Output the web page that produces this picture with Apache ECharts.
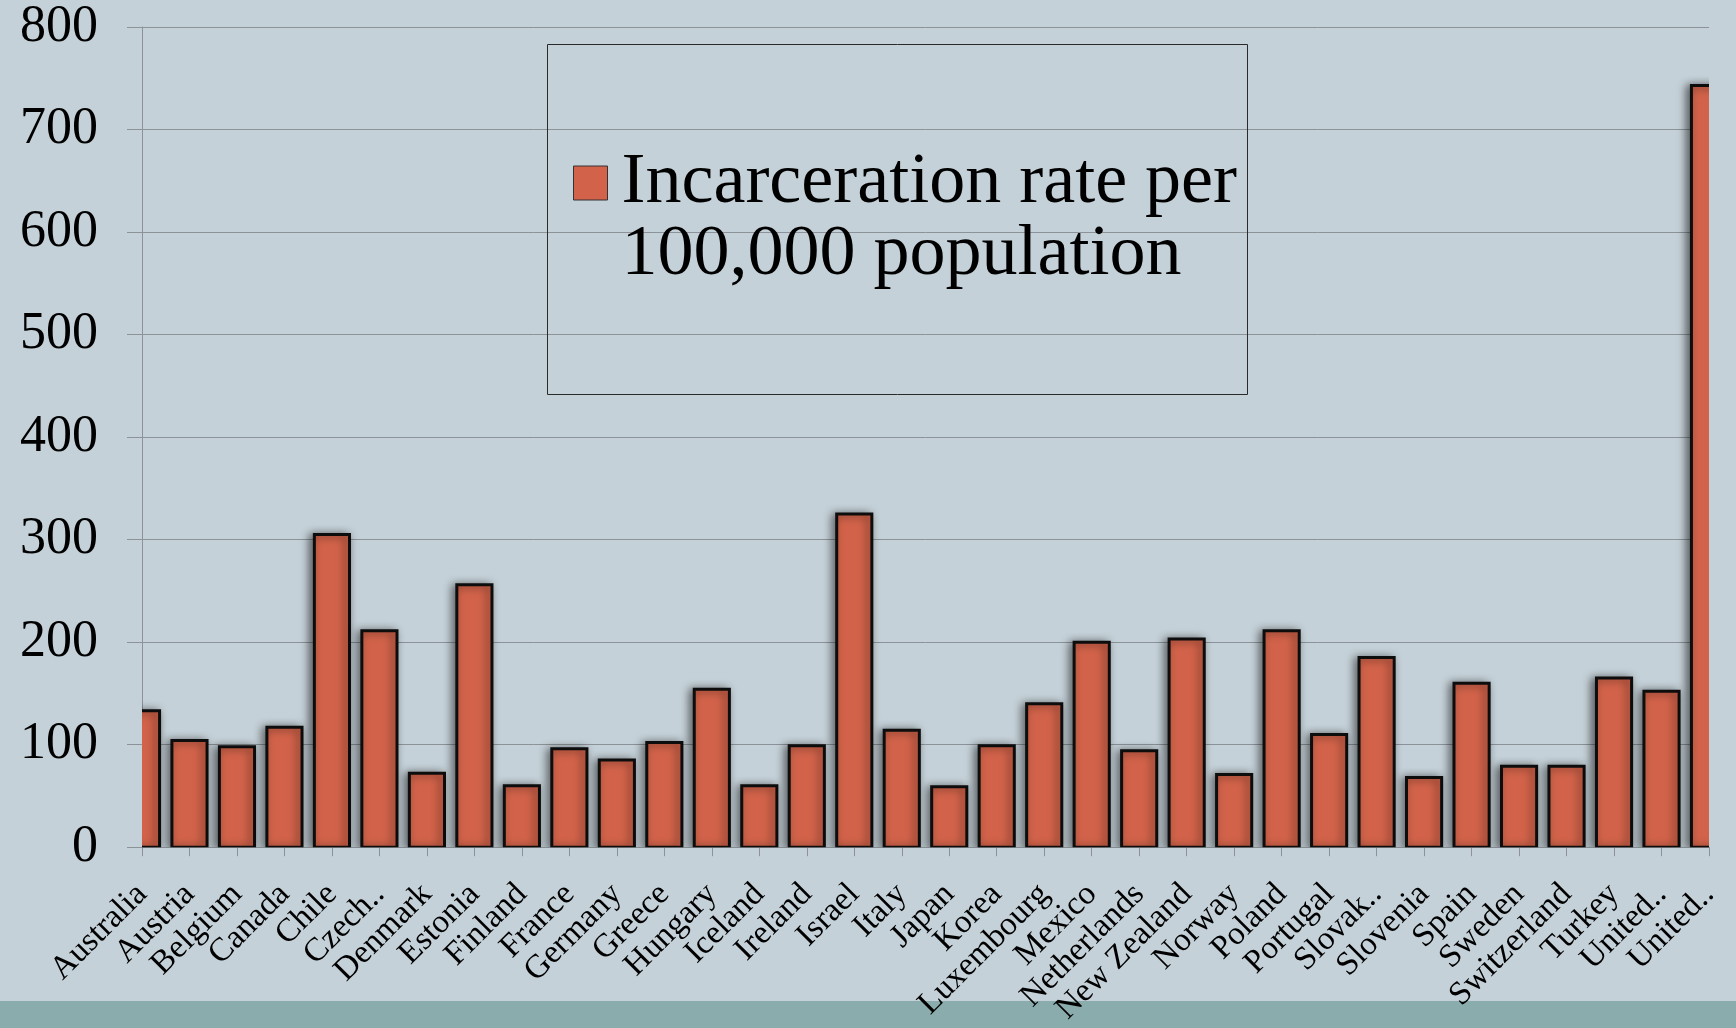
<!DOCTYPE html>
<html>
<head>
<meta charset="utf-8">
<title>Incarceration rate per 100,000 population</title>
<script src="https://cdn.jsdelivr.net/npm/echarts@6/dist/echarts.min.js"></script>
<style>
  html, body { margin: 0; padding: 0; background: #c5d1d8; }
  #chart { width: 1736px; height: 1028px; }
</style>
</head>
<body>
<div id="chart"></div>
<script>
// OECD countries, as labelled on the category axis
const countries = [
  'Australia', 'Austria', 'Belgium', 'Canada', 'Chile', 'Czech..', 'Denmark',
  'Estonia', 'Finland', 'France', 'Germany', 'Greece', 'Hungary', 'Iceland',
  'Ireland', 'Israel', 'Italy', 'Japan', 'Korea', 'Luxembourg', 'Mexico',
  'Netherlands', 'New Zealand', 'Norway', 'Poland', 'Portugal', 'Slovak..',
  'Slovenia', 'Spain', 'Sweden', 'Switzerland', 'Turkey', 'United..', 'United..'
];

// Prisoners per 100,000 inhabitants
const rates = [
  133, 104, 98, 117, 305, 211, 72,
  256, 60, 96, 85, 102, 154, 60,
  99, 325, 114, 59, 99, 140, 200,
  94, 203, 71, 211, 110, 185,
  68, 160, 79, 79, 165, 152, 743
];

const seriesName = 'Incarceration rate per\n100,000 population';

// value axis range
const yMin = 0;
const yMax = 800;
const yStep = 100;

const serif = '"Liberation Serif", "DejaVu Serif", serif';
const gridColor = '#8b9398';
const barFill = '#d2634a';
const barEdge = '#0d0d0d';

// [category index, value] pairs for the custom bar series
const barData = rates.map((v, i) => [i, v]);

// Bars sit on the category ticks (boundaryGap: false), so the end bars are
// cut by the plot area; a custom series with clipping gives exactly that.
function renderBar(params, api) {
  const i = api.value(0);
  const v = api.value(1);
  const base = api.coord([i, 0]);
  const top = api.coord([i, v]);
  const w = api.size([1, 0])[0] * 0.74;
  return {
    type: 'rect',
    shape: { x: top[0] - w / 2, y: top[1], width: w, height: base[1] - top[1] },
    style: {
      fill: barFill,
      stroke: barEdge,
      lineWidth: 3,
      shadowBlur: 9,
      shadowColor: 'rgba(0, 0, 0, 0.55)',
      shadowOffsetX: -3,
      shadowOffsetY: 1
    }
  };
}

const chart = echarts.init(document.getElementById('chart'));

chart.setOption({
  backgroundColor: '#c5d1d8',
  animation: false,
  grid: { left: 142, right: 27, top: 27, bottom: 179, containLabel: false },
  legend: {
    data: [seriesName],
    left: 573,
    top: 75,
    padding: 0,
    itemWidth: 34,
    itemHeight: 34,
    icon: 'rect',
    // a blank leading line keeps the first text line level with the swatch
    formatter: name => '\n' + name,
    itemStyle: { color: barFill, borderWidth: 1, borderColor: '#333', shadowBlur: 0, shadowOffsetX: 0, shadowOffsetY: 0 },
    textStyle: {
      fontFamily: serif,
      fontSize: 72,
      lineHeight: 72,
      color: '#000',
      padding: [0, 0, 0, 9]
    }
  },
  xAxis: {
    type: 'category',
    data: countries,
    boundaryGap: false,
    axisLine: { show: true, lineStyle: { color: gridColor, width: 1 } },
    axisTick: { show: true, length: 9, interval: 0, lineStyle: { color: gridColor } },
    axisLabel: {
      interval: 0,
      rotate: 45,
      margin: 42,
      fontFamily: serif,
      fontSize: 33,
      color: '#000'
    },
    splitLine: { show: false }
  },
  yAxis: {
    type: 'value',
    min: yMin,
    max: yMax,
    interval: yStep,
    axisLine: { show: true, lineStyle: { color: gridColor, width: 1 } },
    axisTick: { show: true, length: 15, lineStyle: { color: gridColor } },
    axisLabel: {
      margin: 44,
      fontFamily: serif,
      fontSize: 52,
      color: '#000'
    },
    splitLine: { show: true, lineStyle: { color: gridColor, width: 1 } }
  },
  series: [{
    name: seriesName,
    type: 'custom',
    data: barData,
    encode: { x: 0, y: 1 },
    clip: true,
    itemStyle: { color: barFill },
    renderItem: renderBar
  }],
  graphic: [
    {
      // framed area around the legend
      type: 'rect',
      shape: { x: 547.5, y: 44.5, width: 700, height: 350 },
      style: { fill: 'none', stroke: '#2a2a2a', lineWidth: 1 },
      z: 10
    },
    {
      // footer band
      type: 'rect',
      shape: { x: 0, y: 1001, width: 1736, height: 27 },
      style: { fill: '#8aacad' },
      z: -1
    }
  ]
});
</script>
</body>
</html>
